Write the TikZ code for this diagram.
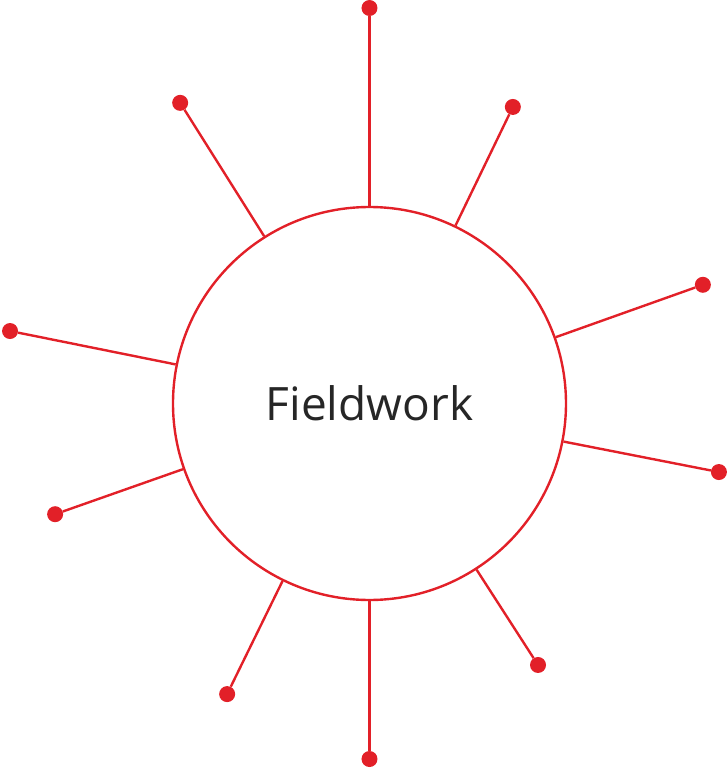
\documentclass[tikz,border=0pt]{standalone}
\usepackage{fontspec}
\setmainfont{Open Sans}
\definecolor{spokered}{RGB}{226,32,40}
\begin{document}
\begin{tikzpicture}[x=1pt,y=1pt,
		hub/.style={circle,draw=spokered,line width=2.4pt,minimum size=393pt,inner sep=0pt,font=\fontsize{46}{50}\selectfont,text=black!85},
		pin/.style={circle,fill=spokered,minimum size=16pt,inner sep=0pt}]
			\path[use as bounding box](-369.5,-365.5)rectangle(358.5,403.5);
			\node[hub](c)at(0,0){Fieldwork};
			\foreach \i/\a/\r in {1/90/395.5,2/122.2/355.3,3/64.2/329.4,4/19.6/353.9,5/168.6/366.7,
				6/-11.1/356.1,7/199.4/333.3,8/-57.2/311.1,9/243.9/323.6,10/270/355.5}{
				\node[pin](d\i)at(\a:\r){};
				\draw[spokered,line width=2.4pt](c)--(d\i);
			}
		\end{tikzpicture}
\end{document}
